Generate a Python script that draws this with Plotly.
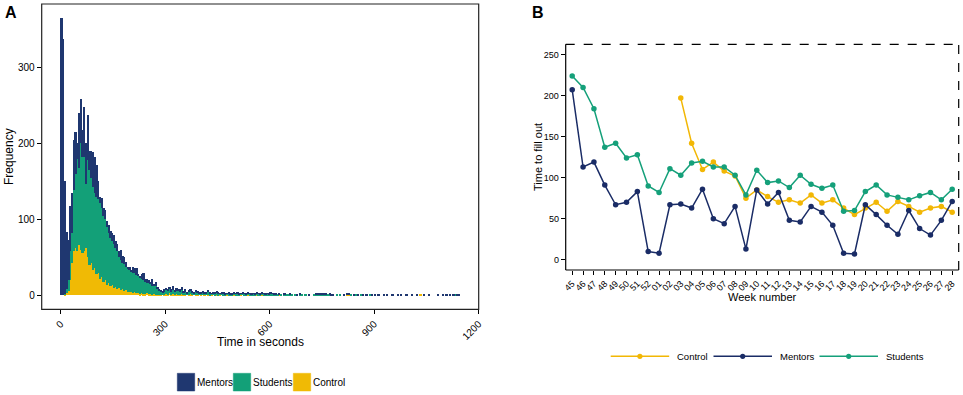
import plotly.graph_objects as go

# ---------------- Panel A data (histogram, bin width 5 s) ----------------
bin_width = 5
mentors_counts = [
    365, 337, 148, 75, 53, 60, 53, 67, 55, 20, 72, 58, 36, 66, 54, 59, 25, 35, 46, 47,
    42, 23, 9, 13, 11, 12, 8, 10, 10, 11, 13, 10, 10, 7, 13, 9, 9, 6, 2, 4,
    2, 8, 7, 9, 3, 2, 7, 10, 4, 5, 4, 3, 8, 3, 6, 1, 2, 2, 2, 3,
    3, 3, 3, 3, 5, 2, 4, 3, 3, 4, 2, 3, 2, 3, 3, 2, 2, 3, 2, 2,
    2, 2, 2, 2, 3, 2, 1, 2, 2, 2, 2, 1, 2, 2, 1, 1, 2, 2, 1, 2,
    1, 2, 1, 1, 2, 1, 1, 2, 1, 1, 1, 1, 2, 1, 1, 2, 1, 1, 1, 1,
    2, 1, 1, 1, 0, 1, 0, 0, 1, 0, 0, 1, 0, 0, 0, 1, 0, 1, 0, 0,
    0, 0, 1, 0, 0, 0, 1, 2, 1, 1, 2, 1, 1, 0, 1, 1, 1, 0, 0, 0,
    0, 0, 1, 0, 1, 1, 0, 0, 1, 0, 1, 0, 0, 1, 0, 1, 0, 0, 1, 0,
    1, 0, 1, 0, 0, 1, 0, 1, 0, 0, 1, 0, 0, 1, 0, 1, 0, 0, 1, 0,
    0, 1, 0, 0, 1, 0, 0, 0, 1, 0, 0, 1, 0, 0, 0, 0, 1, 0, 0, 1,
    0, 1, 0, 1, 0, 1, 0, 1, 1, 0,
]
students_counts = [
    0, 0, 1, 5, 14, 38, 40, 80, 98, 122, 102, 140, 126, 124, 84, 128, 125, 112, 109, 99,
    102, 97, 99, 91, 86, 80, 76, 66, 63, 57, 57, 51, 50, 41, 40, 35, 35, 31, 31, 30,
    27, 27, 25, 24, 22, 22, 18, 18, 16, 14, 14, 13, 12, 10, 11, 8, 5, 4, 4, 4,
    5, 5, 5, 4, 5, 4, 4, 5, 4, 5, 3, 4, 3, 3, 4, 3, 3, 3, 3, 3,
    2, 4, 1, 3, 3, 2, 1, 3, 2, 3, 2, 1, 3, 2, 1, 1, 2, 1, 1, 1,
    2, 2, 1, 1, 3, 2, 1, 1, 2, 1, 2, 1, 1, 2, 1, 2, 2, 1, 2, 1,
    2, 2, 1, 1, 1, 0, 1, 0, 1, 1, 1, 1, 1, 0, 1, 0, 0, 1, 1, 0,
    1, 0, 0, 0, 0, 1, 1, 1, 1, 1, 1, 1, 1, 1, 1, 0, 0, 0, 1, 0,
    1, 0, 0, 0, 0, 0, 1, 0, 0, 1, 0, 0, 1, 0, 0, 0, 0, 1, 0, 0,
    0, 0, 0, 0, 0, 0, 0, 0, 0, 0, 0, 0, 0, 0, 0, 0, 0, 0, 0, 0,
    0, 0, 0, 0, 0, 0, 0, 0, 0, 0, 0, 0, 0, 0, 0, 0, 0, 0, 0, 0,
    0, 0, 0, 0, 0, 0, 1, 0, 0, 0,
]
control_counts = [
    0, 0, 1, 3, 6, 20, 42, 58, 62, 58, 66, 60, 56, 58, 62, 50, 40, 43, 33, 36,
    28, 30, 22, 24, 18, 20, 14, 16, 12, 14, 10, 11, 8, 10, 7, 8, 6, 7, 5, 4,
    5, 3, 4, 3, 3, 2, 3, 2, 2, 3, 2, 2, 1, 2, 1, 1, 1, 1, 0, 1,
    2, 1, 3, 1, 2, 1, 2, 1, 1, 2, 1, 1, 0, 1, 2, 1, 0, 1, 1, 0,
    1, 0, 1, 0, 1, 0, 1, 0, 0, 1, 0, 1, 0, 0, 0, 1, 0, 0, 0, 1,
    0, 0, 0, 1, 0, 0, 0, 1, 0, 0, 0, 0, 1, 0, 0, 1, 0, 0, 0, 0,
    0, 0, 0, 0, 0, 1, 0, 0, 0, 0, 0, 0, 0, 0, 0, 0, 0, 0, 0, 0,
    0, 0, 0, 0, 0, 0, 0, 0, 0, 0, 0, 0, 0, 0, 0, 0, 0, 0, 0, 0,
    0, 0, 0, 0, 1, 1, 0, 0, 0, 0, 0, 0, 0, 0, 0, 0, 0, 0, 0, 0,
    0, 0, 0, 0, 0, 0, 0, 0, 0, 0, 0, 0, 0, 0, 0, 0, 0, 0, 0, 0,
    0, 0, 0, 0, 0, 0, 1, 0, 0, 0, 0, 0, 0, 0, 0, 0, 0, 0, 0, 0,
    0, 0, 0, 0, 0, 0, 0, 0, 0, 0,
]
hist_xticks = [0, 300, 600, 900, 1200]
hist_yticks = [0, 100, 200, 300]

# ---------------- Panel B data (weekly means) ----------------
weeks = ["45", "46", "47", "48", "49", "50", "51", "52", "01", "02", "03", "04",
         "05", "06", "07", "08", "09", "10", "11", "12", "13", "14", "15", "16",
         "17", "18", "19", "20", "21", "22", "23", "24", "25", "26", "27", "28"]
students_week = [224, 210, 184, 137, 142, 124, 128, 90, 82, 111, 103, 118,
                 120, 113, 113, 103, 79, 109, 94, 96, 88, 103, 92, 87,
                 91, 59, 60, 83, 91, 79, 76, 73, 78, 82, 73, 86]
mentors_week = [207, 113, 119, 91, 67, 70, 83, 10, 8, 67, 68, 63,
                86, 50, 44, 65, 13, 85, 68, 82, 48, 46, 65, 58,
                42, 8, 7, 67, 55, 42, 31, 60, 38, 30, 48, 71]
control_week = [None, None, None, None, None, None, None, None, None, None, 197, 142,
                110, 119, 108, 102, 75, 85, 77, 70, 73, 69, 79, 69,
                73, 63, 55, 63, 70, 59, 71, 65, 58, 63, 65, 58]
week_yticks = [0, 50, 100, 150, 200, 250]

# ---------------- Styling ----------------
NAVY_BAR = "#1f3770"
GREEN_BAR = "#13a078"
YELLOW_BAR = "#f0ba05"
NAVY_LINE = "#1a2c66"
GREEN_LINE = "#15a07a"
YELLOW_LINE = "#f2b705"
FONT = "Liberation Sans, Arial, sans-serif"
W, H = 963, 395


def px(x):
    return x / W


def py(y):
    return 1 - y / H


bin_centers = [bin_width * k + bin_width / 2 for k in range(len(mentors_counts))]

fig = go.Figure()
for name, vals, col in [("Control", control_counts, YELLOW_BAR),
                        ("Students", students_counts, GREEN_BAR),
                        ("Mentors", mentors_counts, NAVY_BAR)]:
    fig.add_trace(go.Bar(x=bin_centers, y=vals, width=bin_width, name=name,
                         marker=dict(color=col, line=dict(width=0)),
                         xaxis="x", yaxis="y", showlegend=False))

for name, vals, col in [("Control", control_week, YELLOW_LINE),
                        ("Mentors", mentors_week, NAVY_LINE),
                        ("Students", students_week, GREEN_LINE)]:
    fig.add_trace(go.Scatter(x=weeks, y=vals, name=name, mode="lines+markers",
                             line=dict(color=col, width=1.5),
                             marker=dict(color=col, size=5.5),
                             connectgaps=False,
                             xaxis="x2", yaxis="y2", showlegend=False))

axis_common = dict(showline=False, ticks="outside", automargin=False,
                   ticklen=4, tickcolor="black", tickwidth=1, showgrid=False, zeroline=False)

fig.update_layout(
    width=W, height=H, margin=dict(l=0, r=0, t=0, b=0, autoexpand=False),
    paper_bgcolor="white", plot_bgcolor="white",
    barmode="stack", bargap=0,
    font=dict(family=FONT, color="black"),
    showlegend=False,
    xaxis=dict(domain=[px(41.7), px(478.7)], range=[-54.5, 1200], anchor="y",
               tickvals=hist_xticks, tickangle=-45,
               tickfont=dict(size=10, color="black"), **axis_common),
    yaxis=dict(domain=[py(309.3), py(4)], range=[-18.25, 383.25], anchor="x",
               tickvals=hist_yticks,
               tickfont=dict(size=10, color="black"), **axis_common),
    xaxis2=dict(domain=[px(565.7), px(958.7)], range=[-0.6, 35.6], anchor="y2",
                type="category", categoryorder="array", categoryarray=weeks,
                tickmode="array", tickvals=weeks, ticktext=weeks,
                tickangle=-45, tickfont=dict(size=9, color="black"), **axis_common),
    yaxis2=dict(domain=[py(270), py(44.3)], range=[-12.5, 262.5], anchor="x2",
                tickvals=week_yticks, tickfont=dict(size=9, color="black"), **axis_common),
)

shapes = []
# panel A full box
shapes.append(dict(type="rect", xref="x domain", yref="y domain", x0=0, x1=1, y0=0, y1=1,
                   line=dict(color="#222222", width=1.2), layer="above"))
# panel B: solid left + bottom, dashed top + right
shapes.append(dict(type="line", xref="x2 domain", yref="y2 domain", x0=0, x1=0, y0=0, y1=1,
                   line=dict(color="black", width=1.2)))
shapes.append(dict(type="line", xref="x2 domain", yref="y2 domain", x0=0, x1=1, y0=0, y1=0,
                   line=dict(color="black", width=1.2)))
shapes.append(dict(type="line", xref="x2 domain", yref="y2 domain", x0=0, x1=1, y0=1, y1=1,
                   line=dict(color="black", width=1.2, dash="dash")))
shapes.append(dict(type="line", xref="x2 domain", yref="y2 domain", x0=1, x1=1, y0=0, y1=1,
                   line=dict(color="black", width=1.2, dash="dash")))


def ann(text, x, y, size, angle=0, xanchor="center"):
    return dict(text=text, x=px(x), y=py(y), xref="paper", yref="paper",
                xanchor=xanchor, yanchor="middle", textangle=angle,
                showarrow=False, font=dict(size=size, color="black"))


annotations = [
    ann("<b>A</b>", 3, 12, 16, xanchor="left"),
    ann("<b>B</b>", 530, 12, 16, xanchor="left"),
    ann("Frequency", 9, 157, 12, angle=-90),
    ann("Time in seconds", 260.5, 342, 12),
    ann("Time to fill out", 537.5, 157.5, 11, angle=-90),
    ann("Week number", 762, 296.5, 11),
]

# legend A (filled boxes)
legA = [("Mentors", NAVY_BAR, 177.3, 196), ("Students", GREEN_BAR, 233.3, 252),
        ("Control", YELLOW_BAR, 293.3, 312)]
for name, col, bx, tx in legA:
    shapes.append(dict(type="rect", xref="paper", yref="paper", x0=px(bx), x1=px(bx + 17.4),
                       y0=py(391), y1=py(373.3), fillcolor=col, line=dict(color=col, width=0.5)))
    annotations.append(ann(name, tx - 1, 382, 10, xanchor="left"))

# legend B (line + dot)
legB = [("Control", YELLOW_LINE, 610.7, 676), ("Mentors", NAVY_LINE, 713.5, 779),
        ("Students", GREEN_LINE, 819.5, 885)]
for name, col, lx, tx in legB:
    shapes.append(dict(type="line", xref="paper", yref="paper", x0=px(lx), x1=px(lx + 58.5),
                       y0=py(356.3), y1=py(356.3), line=dict(color=col, width=1.5)))
    cx = lx + 29.2
    shapes.append(dict(type="circle", xref="paper", yref="paper", x0=px(cx - 2.6), x1=px(cx + 2.6),
                       y0=py(358.9), y1=py(353.7), fillcolor=col, line=dict(color=col, width=0)))
    annotations.append(ann(name, tx - 1, 356.3, 9.5, xanchor="left"))

fig.update_layout(shapes=shapes, annotations=annotations)
fig.write_html("out.html", config={"displayModeBar": False},
               post_script="document.body.style.margin='0';document.body.style.overflow='hidden';")
